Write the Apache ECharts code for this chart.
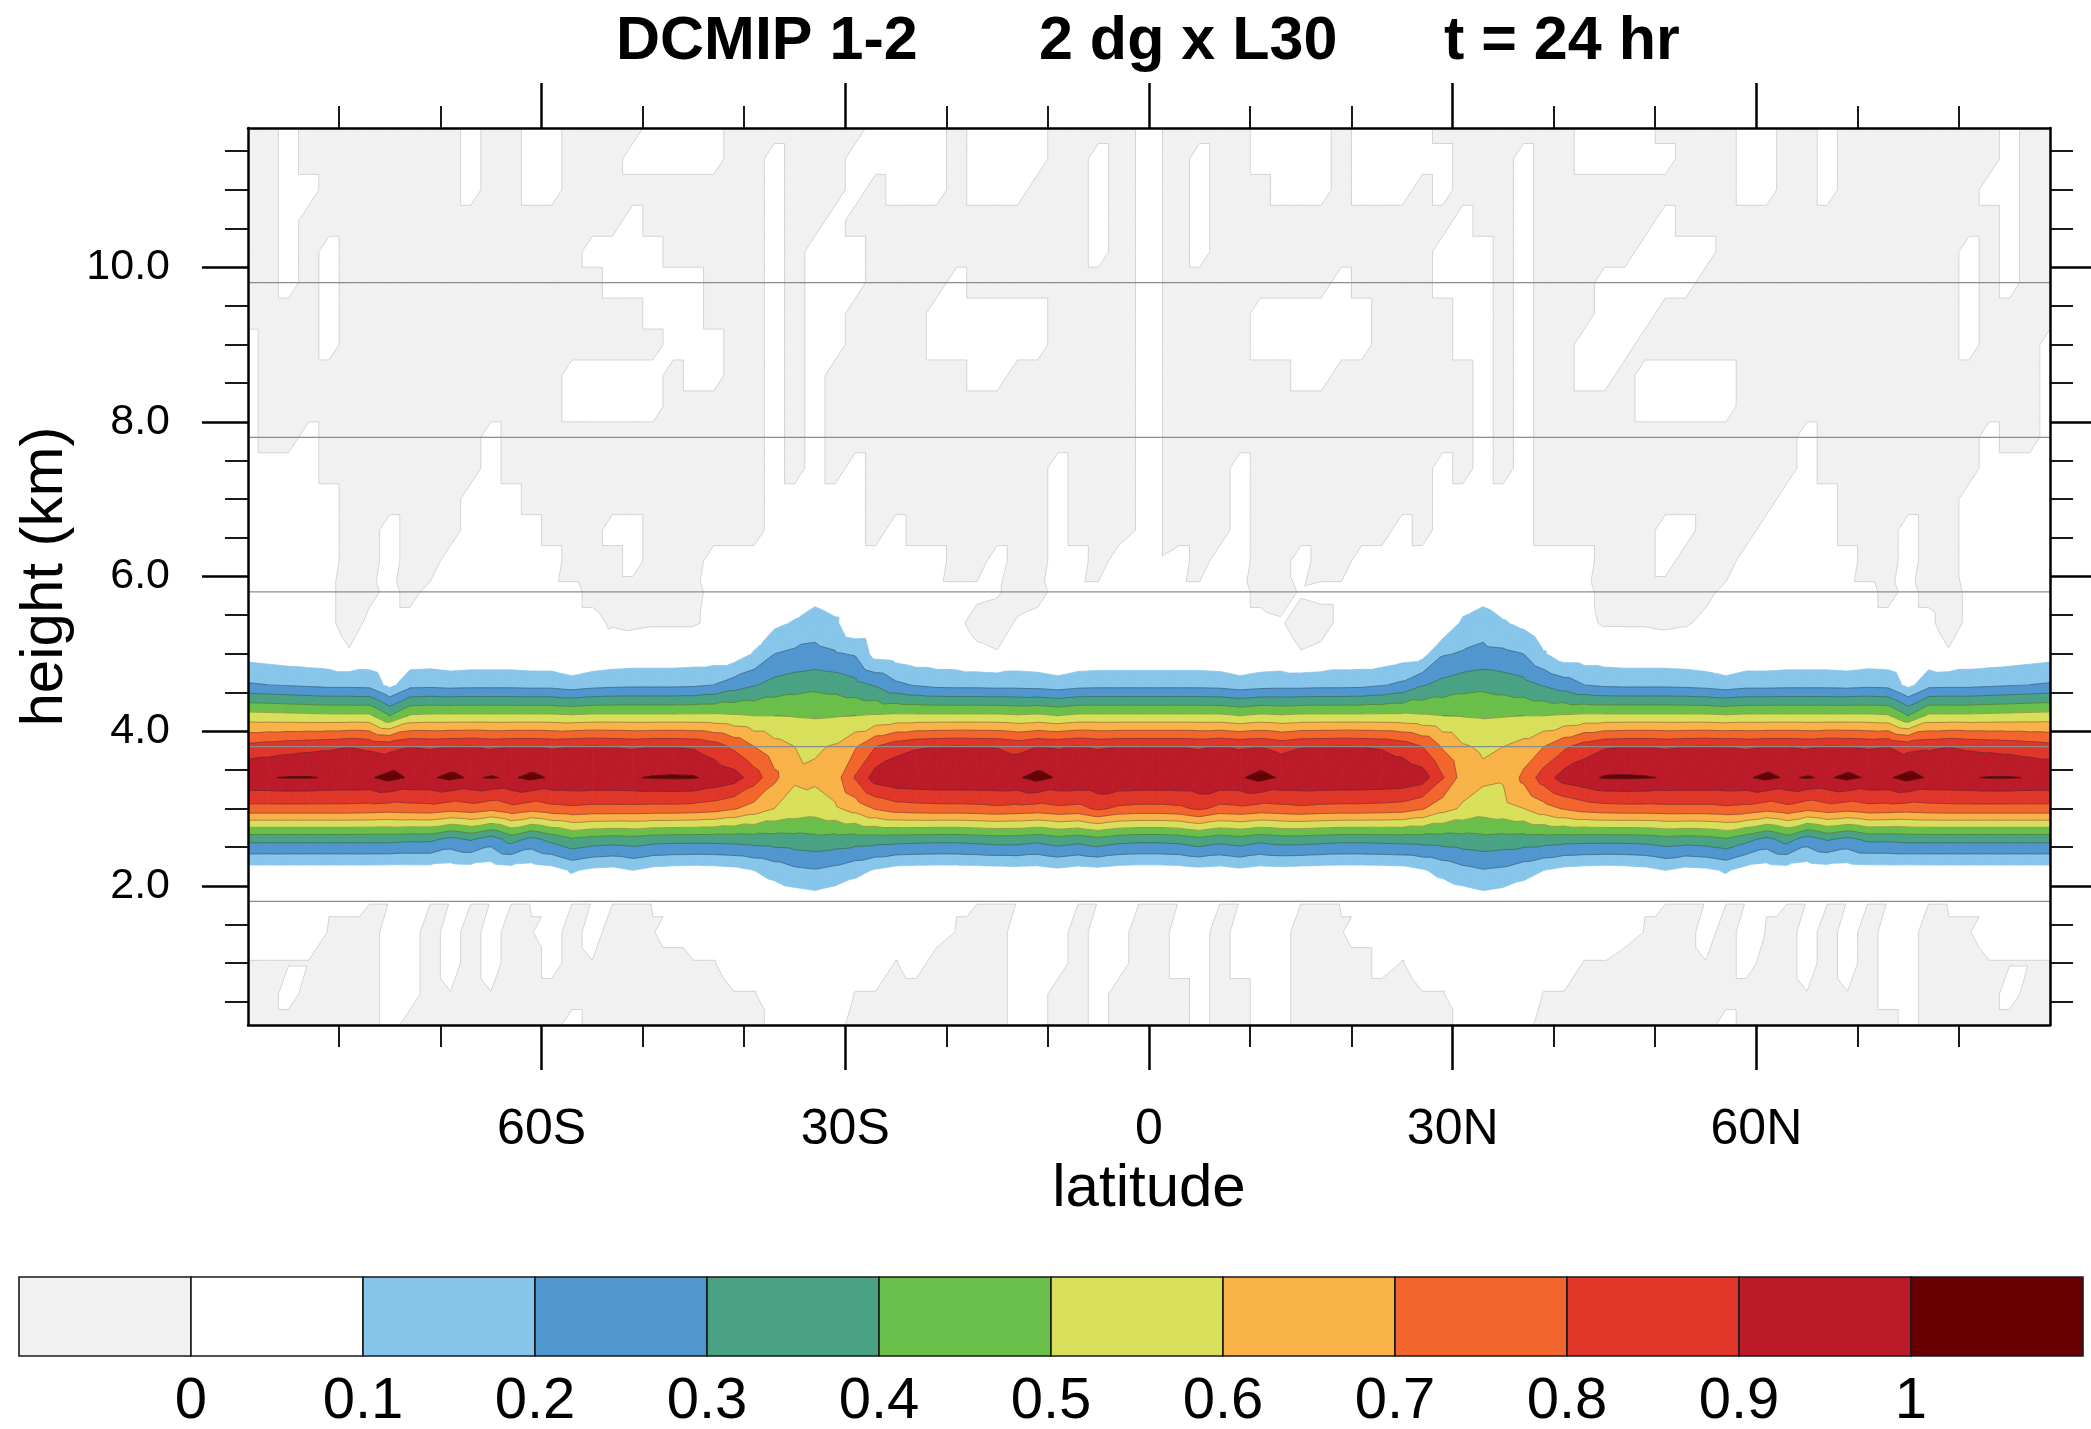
<!DOCTYPE html>
<html>
<head>
<meta charset="utf-8">
<title>DCMIP 1-2</title>
<script src="https://cdn.jsdelivr.net/npm/echarts/dist/echarts.min.js"></script>
<style>
html,body{margin:0;padding:0;background:#fff;}
#chart{width:2091px;height:1429px;}
</style>
</head>
<body>
<div id="chart"></div>
<script>
// ---------------- data ----------------
const LATITUDES = [-89,-87,-85,-83,-81,-79,-77,-75,-73,-71,-69,-67,-65,-63,-61,-59,-57,-55,-53,-51,-49,-47,-45,-43,-41,-39,-37,-35,-33,-31,-29,-27,-25,-23,-21,-19,-17,-15,-13,-11,-9,-7,-5,-3,-1,1,3,5,7,9,11,13,15,17,19,21,23,25,27,29,31,33,35,37,39,41,43,45,47,49,51,53,55,57,59,61,63,65,67,69,71,73,75,77,79,81,83,85,87,89];
const HEIGHTS = [0.2,0.6,1.0,1.4,1.8,2.2,2.6,3.0,3.4,3.8,4.2,4.6,5.0,5.4,5.8,6.2,6.6,7.0,7.4,7.8,8.2,8.6,9.0,9.4,9.8,10.2,10.6,11.0,11.4,11.8];

const LEVELS = [0,0.1,0.2,0.3,0.4,0.5,0.6,0.7,0.8,0.9,1.0];
const BAND_COLORS = ['#f1f1f1','#ffffff','#87c5ea','#5096cf','#48a283','#6abe4a','#d8df5a','#f8b247','#f2652c','#e0362a','#bb1b28','#680003'];
const COLORBAR_BOUNDS = [-0.1,0,0.1,0.2,0.3,0.4,0.5,0.6,0.7,0.8,0.9,1.0,1.1];
const COLORBAR_LABEL_VALUES = [0,0.1,0.2,0.3,0.4,0.5,0.6,0.7,0.8,0.9,1];
const COLORBAR_LABELS = ['0','0.1','0.2','0.3','0.4','0.5','0.6','0.7','0.8','0.9','1'];

const X_MAJOR = [-60,-30,0,30,60];
const X_LABELS = ['60S','30S','0','30N','60N'];
const X_MINOR = [-80,-70,-50,-40,-20,-10,10,20,40,50,70,80];
const Y_MAJOR = [2,4,6,8,10];
const Y_LABELS = ['2.0','4.0','6.0','8.0','10.0'];
const Y_MINOR = [0.5,1,1.5,2.5,3,3.5,4.5,5,5.5,6.5,7,7.5,8.5,9,9.5,10.5,11,11.5];
const GRID_LINE_HEIGHTS = [1.8,3.8,5.8,7.8,9.8];

const TITLE_PARTS = ['DCMIP 1-2','2 dg x L30','t = 24 hr'];

// sign rows: '#' = below 0 (grey), '-' = just below 0, '.' = between 0 and 0.1 (white), ',' = just above 0
const S_0_2  = "##### ##.## ##### #.### ##### #.... ##### ###.. ##.## ##.## ..### ##### ....# ##### ###.# ##### ##.## #####";
const S_0_6  = "##.## ##..# -#-## ##### ####- -.... --### ###.. ##.## ##.## ..### ###-- ....- -#### ##### ##-#- #..## ##.##";
const S_1_0  = "----# ##..# .#.## .#-## ##--. ..... ..-.# ###.. .#..# #..#. ..### #.-.. ..... .--## ##-#. ##.#. #..## #----";
const S_1_4  = "....- -#..# .#.#- .#.## -.... ..... ..... -##.. .#..# #..#. ..##- ..... ..... ....- ##.#. -#.#. #..#- -....";

// numeric rows through the tracer band
const Q_1_8 = [.002,.002,.002,.002,.002,.002,.002,.002,.002,.002, .002,.002,.002,.002,.002,.002,.002,.002,.002,.002, .002,.002,.002,.002,.002,.002,.02,.035,.05,.03, .015,.002,.002,.002,.002,.002,.002,.002,.002,.002, .002,.002,.002,.002,.002,
  .002,.002,.002,.002,.002, .002,.002,.002,.002,.002,.002,.002,.002,.002,.015, .03,.05,.035,.02,.002,.002,.002,.002,.002,.002, .002,.002,.002,.002,.002,.002,.002,.002,.002,.002, .002,.002,.002,.002,.002,.002,.002,.002,.002,.002];
const Q_2_2 = [.052,.052,.052,.052,.052,.052,.052,.05,.052,.052, .045,.05,.04,.055,.045,.06,.11,.08,.07,.1, .07,.06,.055,.06,.07,.1,.14,.18,.193,.17, .13,.09,.06,.055,.052,.052,.055,.06,.065,.06, .08,.06,.07,.055,.05,
  .05,.055,.07,.06,.08, .06,.065,.06,.055,.052,.052,.055,.06,.09,.13, .17,.193,.18,.14,.1,.07,.06,.055,.06,.07, .1,.07,.08,.11,.06,.045,.055,.04,.05,.045, .052,.052,.05,.052,.052,.052,.052,.052,.052,.052];
const Q_2_6 = [.33,.33,.33,.33,.33,.33,.33,.33,.32,.32, .27,.31,.25,.34,.27,.33,.385,.36,.35,.36, .34,.335,.335,.335,.34,.35,.355,.36,.37,.36, .35,.345,.34,.335,.33,.33,.34,.35,.35,.33, .36,.34,.37,.34,.33,
  .33,.34,.37,.34,.36, .33,.35,.35,.34,.33,.33,.335,.34,.345,.35, .36,.37,.36,.355,.35,.34,.335,.335,.335,.34, .36,.35,.36,.385,.33,.27,.34,.25,.31,.27, .32,.32,.33,.33,.33,.33,.33,.33,.33,.33];
const Q_3_0 = [.765,.765,.765,.765,.765,.765,.76,.75,.76,.765, .74,.76,.73,.77,.74,.77,.78,.77,.77,.77, .765,.765,.76,.745,.71,.66,.60,.57,.55,.585, .64,.71,.75,.76,.765,.765,.77,.78,.77,.76, .78,.77,.82,.78,.77,
  .77,.78,.82,.77,.78, .76,.77,.78,.77,.765,.765,.76,.75,.71,.64, .585,.55,.57,.60,.66,.71,.745,.76,.765,.765, .77,.77,.77,.78,.77,.74,.77,.73,.76,.74, .765,.76,.75,.76,.765,.765,.765,.765,.765,.765];
const Q_3_4 = [.995,.997,1.004,1.004,.995,.99,.99,1.03,.99,.99, 1.02,.99,1.006,.99,1.02,.99,.99,.99,.99,.995, 1.006,1.01,1.008,.975,.945,.85,.725,.61,.62,.655, .81,.95,.98,.985,.99,.99,.99,.99,.99,1.03, .99,.99,.99,.99,.99,
  .99,.99,.99,.99,.99, 1.03,.99,.99,.99,.99,.99,.985,.98,.95,.81, .655,.62,.61,.725,.85,.945,.975,1.008,1.01,1.006, .995,.99,.99,.99,.99,1.02,.99,1.006,.99,1.02, .99,.99,1.03,.99,.99,.995,1.004,1.004,.997,.995];
const Q_3_8 = [.834,.85,.865,.875,.885,.9,.885,.87,.9,.89, .9,.905,.89,.9,.9,.89,.9,.905,.9,.89, .9,.9,.89,.85,.78,.70,.635,.60,.587,.61, .69,.80,.86,.89,.90,.905,.90,.895,.87,.9, .89,.905,.89,.9,.9,
  .9,.9,.89,.905,.89, .9,.87,.895,.90,.905,.90,.89,.86,.80,.69, .61,.587,.60,.635,.70,.78,.85,.89,.9,.9, .89,.9,.905,.9,.89,.9,.9,.89,.905,.9, .89,.9,.87,.885,.9,.885,.875,.865,.85,.834];
const Q_4_2 = [.54,.535,.53,.525,.52,.52,.52,.40,.51,.52, .52,.52,.52,.52,.52,.52,.51,.52,.52,.52, .52,.52,.52,.52,.51,.50,.50,.495,.49,.495, .50,.51,.52,.52,.52,.52,.52,.52,.51,.52, .50,.52,.52,.52,.52,
  .52,.52,.52,.52,.50, .52,.51,.52,.52,.52,.52,.52,.52,.51,.50, .495,.49,.495,.50,.50,.51,.52,.52,.52,.52, .52,.52,.52,.51,.52,.52,.52,.52,.52,.52, .52,.51,.40,.52,.52,.52,.525,.53,.535,.54];
const Q_4_6 = [.21,.20,.19,.18,.17,.17,.165,.07,.165,.17, .16,.165,.165,.165,.16,.16,.14,.16,.17,.175, .175,.175,.18,.20,.25,.29,.333,.355,.373,.36, .33,.29,.22,.19,.17,.165,.165,.16,.16,.155, .14,.16,.165,.165,.165,
  .165,.165,.165,.16,.14, .155,.16,.16,.165,.165,.17,.19,.22,.29,.33, .36,.373,.355,.333,.29,.25,.20,.18,.175,.175, .175,.17,.16,.14,.16,.16,.165,.165,.165,.16, .17,.165,.07,.165,.17,.17,.18,.19,.20,.21];
const Q_5_0 = [.06,.05,.04,.035,.03,.005,.03,.003,.03,.035, .025,.03,.03,.03,.025,.025,.003,.02,.03,.035, .035,.035,.04,.04,.04,.11,.20,.22,.227,.21, .19,.06,.05,.03,.03,.03,.01,.003,.025,.02, .003,.02,.025,.025,.025,
  .025,.025,.025,.02,.003, .02,.025,.003,.01,.03,.03,.03,.05,.06,.19, .21,.227,.22,.20,.11,.04,.04,.04,.035,.035, .035,.03,.02,.003,.025,.025,.03,.03,.03,.025, .035,.03,.003,.03,.005,.03,.035,.04,.05,.06];
const Q_5_4 = [.01,.01,.01,.01,.01,-.02,.01,.01,.01,.01, .01,.01,.01,.01,.01,.01,.01,.01,-.005,-.01, -.005,-.005,-.005,.01,.01,.02,.075,.11,.155,.12, .005,.01,.01,.01,.01,.01,-.015,-.02,.005,.01, .01,.01,.01,.01,.01,
  .01,.01,.01,.01,.01, .01,.005,-.02,-.015,.01,.01,.01,.01,.01,.005, .12,.155,.11,.075,.02,.01,.01,-.005,-.005,-.005, -.01,-.005,.01,.01,.01,.01,.01,.01,.01,.01, .01,.01,.01,.01,-.02,.01,.01,.01,.01,.01];
const Q_5_8 = [.01,.01,.01,.01,.01,-.02,-.01,.01,-.01,.01, .01,.01,.01,.01,.01,.01,.01,-.01,-.02,-.02, -.02,-.02,-.01,.01,.01,.01,.01,.02,.05,.02, .01,.01,.01,.01,.01,.01,.01,.005,-.02,-.01, .01,.01,.01,.01,.01,
  .01,.01,.01,.01,.01, -.01,-.02,.005,.01,.01,.01,.01,.01,.01,.01, .02,.05,.02,.01,.01,.01,.01,-.01,-.02,-.02, -.02,-.02,-.01,.01,.01,.01,.01,.01,.01,.01, .01,-.01,.01,-.01,-.02,.01,.01,.01,.01,.01];

const S_6_2  = "..... ##.## ..... .###. ###.. ..... ..... ##.## ..#., ,.#.. ##.## ..... ..... ..### .###. ..... ##.## .....";
const S_6_6  = "..... ##.## #.... ###.. ##### #.... .#.## ##### .###, ,###. ##### ##.#. ....# ##### ..### ....# ##.## .....";
const S_7_0  = "..... ##### #...# ##### ##### #.... .#### ##### .###, ,###. ##### ####. ....# ##### ##### #...# ##### .....";
const S_7_4  = "....# ##### ##.## ##### ##### #.#.# .#### ##### .###, ,###. ##### ####. #.#.# ##### ##### ##.## ##### #....";
const S_7_8  = ".##.# ##### ##.## ##### ##### #.#.# ##### ##### ####, ,#### ##### ##### #.#.# ##### ##### ##.## ##### #.##.";
const S_8_2  = ".#### ##### ##### #.... .#### #.#.# ##### ##### ####, ,#### ##### ##### #.#.# ####. ....# ##### ##### ####.";
const S_8_6  = ".#### ##### ##### #.... .#..# #.#.# ##### #..## ####, ,#### ##..# ##### #.#.# #..#. ....# ##### ##### ####.";
const S_9_0  = ".###. ##### ##### ##### #...# #.#.. ####. ..... ####, ,#### ..... .#### ..#.# #...# ##### ##### ##### .###.";
const S_9_4  = "####. ##### ##### ##### ...## #.#.. ####. ..... ####, ,#### ..... .#### ..#.# ##... ##### ##### ##### .####";
const S_9_8  = "##.#. ##### ##### ###.. ...## #.#.. .#### .#### ####, ,#### ####. ####. ..#.# ##... ..### ##### ##### .#.##";
const S_10_2 = "##.#. ##### ##### ##... .#### #.#.. .#### ##### ##.#, ,#.## ##### ####. ..#.# ####. ...## ##### ##### .#.##";
const S_10_6 = "##.## ##### ##### ####. ##### #.##. ##### ##### ##.#, ,#.## ##### ##### .##.# ##### .#### ##### ##### ##.##";
const S_11_0 = "##..# ##### #.##. .#### ##### #.### .#... #...# ##.#, ,#.## #...# ...#. ###.# ##### ####. .##.# ##### #..##";
const S_11_4 = "##.## ##### #.##. .###. ....# #.### ..... #.... ##.#, ,#.## ....# ..... ###.# #.... .###. .##.# ##### ##.##";
const S_11_8 = "##.## ##### #.##. .#### ....# ##### #.... #.... ####, ,#### ....# ....# ##### #.... ####. .##.# ##### ##.##";

const FIELD_ROWS = [S_0_2,S_0_6,S_1_0,S_1_4,Q_1_8,Q_2_2,Q_2_6,Q_3_0,Q_3_4,Q_3_8,Q_4_2,Q_4_6,Q_5_0,Q_5_4,Q_5_8,
  S_6_2,S_6_6,S_7_0,S_7_4,S_7_8,S_8_2,S_8_6,S_9_0,S_9_4,S_9_8,S_10_2,S_10_6,S_11_0,S_11_4,S_11_8];
const SIGN_VALUES = { '#': -0.02, '-': -0.002, '.': 0.02, ',': 0.004 };

// ---------------- build the grid table ----------------
const FONT = '"Liberation Sans", Arial, Helvetica, sans-serif';

const field = FIELD_ROWS.map(function (r, j) {
  let vals;
  if (typeof r === 'string') {
    vals = Array.from(r.replace(/\s/g, '')).map(function (ch) { return SIGN_VALUES[ch]; });
  } else {
    vals = r;
  }
  if (vals.length !== LATITUDES.length) {
    throw new Error('row ' + HEIGHTS[j] + ' has ' + vals.length + ' values');
  }
  return vals;
});

const cells = [];
for (let j = 0; j < HEIGHTS.length - 1; j++) {
  for (let i = 0; i < LATITUDES.length - 1; i++) {
    cells.push([LATITUDES[i], LATITUDES[i + 1], HEIGHTS[j], HEIGHTS[j + 1],
      field[j][i], field[j][i + 1], field[j + 1][i], field[j + 1][i + 1]]);
  }
}

function clipPoly(poly, level, keepAbove) {
  const out = [];
  const n = poly.length;
  for (let a = 0; a < n; a++) {
    const p = poly[a], q = poly[(a + 1) % n];
    const pIn = keepAbove ? p[2] >= level : p[2] <= level;
    const qIn = keepAbove ? q[2] >= level : q[2] <= level;
    if (pIn) out.push(p);
    if (pIn !== qIn) {
      const t = (level - p[2]) / (q[2] - p[2]);
      out.push([p[0] + t * (q[0] - p[0]), p[1] + t * (q[1] - p[1]), level]);
    }
  }
  return out;
}

function cellTriangles(api) {
  const x0 = api.value(0), x1 = api.value(1), y0 = api.value(2), y1 = api.value(3);
  const a = [x0, y0, api.value(4)], b = [x1, y0, api.value(5)];
  const c = [x0, y1, api.value(6)], d = [x1, y1, api.value(7)];
  return [[a, b, d], [a, d, c]];
}

function renderFill(params, api) {
  const children = [];
  cellTriangles(api).forEach(function (tri) {
    const vs = tri.map(function (p) { return p[2]; });
    const vmin = Math.min.apply(null, vs), vmax = Math.max.apply(null, vs);
    for (let k = 0; k < BAND_COLORS.length; k++) {
      const lo = k === 0 ? -Infinity : LEVELS[k - 1];
      const hi = k === BAND_COLORS.length - 1 ? Infinity : LEVELS[k];
      if (vmax < lo || vmin > hi) continue;
      let poly = tri;
      if (lo !== -Infinity) poly = clipPoly(poly, lo, true);
      if (poly.length >= 3 && hi !== Infinity) poly = clipPoly(poly, hi, false);
      if (poly.length < 3) continue;
      children.push({
        type: 'polygon', silent: true,
        shape: { points: poly.map(function (p) { return api.coord([p[0], p[1]]); }) },
        style: { fill: BAND_COLORS[k], stroke: BAND_COLORS[k], lineWidth: 0.8 }
      });
    }
  });
  return { type: 'group', children: children };
}

function renderLines(params, api) {
  const children = [];
  cellTriangles(api).forEach(function (tri) {
    LEVELS.forEach(function (L) {
      if (L === 0.1) return;
      const pts = [];
      for (let e = 0; e < 3; e++) {
        const p = tri[e], q = tri[(e + 1) % 3];
        if ((p[2] >= L) !== (q[2] >= L)) {
          const t = (L - p[2]) / (q[2] - p[2]);
          pts.push(api.coord([p[0] + t * (q[0] - p[0]), p[1] + t * (q[1] - p[1])]));
        }
      }
      if (pts.length === 2) {
        children.push({
          type: 'line', silent: true,
          shape: { x1: pts[0][0], y1: pts[0][1], x2: pts[1][0], y2: pts[1][1] },
          style: { stroke: L === 0 ? '#c8c8c8' : 'rgba(45,45,45,0.45)', lineWidth: 0.8 }
        });
      }
    });
  });
  return { type: 'group', children: children };
}

const colorbarItems = BAND_COLORS.map(function (c, k) { return [COLORBAR_BOUNDS[k], COLORBAR_BOUNDS[k + 1], k]; });
const gridLineItems = GRID_LINE_HEIGHTS.map(function (h) { return [LATITUDES[0], LATITUDES[LATITUDES.length - 1], h]; });

const axisBase = { type: 'value', splitLine: { show: false }, z: 6, silent: true };
const black = '#000';

function xAxisDef(pos, ticks, len, width, withLine, withLabel) {
  return Object.assign({}, axisBase, {
    gridIndex: 0, position: pos, min: -89, max: 89,
    axisLine: { show: withLine, onZero: false, lineStyle: { color: black, width: 2.5 } },
    axisTick: { show: true, inside: false, customValues: ticks, length: len, lineStyle: { color: black, width: width } },
    axisLabel: withLabel ? {
      show: true, customValues: X_MAJOR, margin: 80, fontSize: 50, fontFamily: FONT, color: black,
      formatter: function (v) { const i = X_MAJOR.indexOf(Math.round(v)); return i >= 0 ? X_LABELS[i] : ''; }
    } : { show: false }
  });
}
function yAxisDef(pos, ticks, len, width, withLine, withLabel) {
  return Object.assign({}, axisBase, {
    gridIndex: 0, position: pos, min: 0.2, max: 11.8,
    axisLine: { show: withLine, onZero: false, lineStyle: { color: black, width: 2.5 } },
    axisTick: { show: true, inside: false, customValues: ticks, length: len, lineStyle: { color: black, width: width } },
    axisLabel: withLabel ? {
      show: true, customValues: Y_MAJOR, margin: 78, fontSize: 43, fontFamily: FONT, color: black,
      formatter: function (v) { const i = Y_MAJOR.indexOf(Math.round(v)); return i >= 0 ? Y_LABELS[i] : ''; }
    } : { show: false }
  });
}

const xMainBottom = xAxisDef('bottom', X_MAJOR, 45, 2.5, true, true);
xMainBottom.name = 'latitude';
xMainBottom.nameLocation = 'middle';
xMainBottom.nameGap = 124;
xMainBottom.nameTextStyle = { fontSize: 60, fontFamily: FONT, color: black };

const yMainLeft = yAxisDef('left', Y_MAJOR, 46, 2.5, true, true);
yMainLeft.name = 'height (km)';
yMainLeft.nameLocation = 'middle';
yMainLeft.nameRotate = 90;
yMainLeft.nameGap = 160;
yMainLeft.nameTextStyle = { fontSize: 60, fontFamily: FONT, color: black };

function titleText(i, x) {
  return { type: 'text', x: x, y: 42, silent: true,
    style: { text: TITLE_PARTS[i], fill: black, fontSize: 61, fontWeight: 'bold', fontFamily: FONT,
      align: 'left', verticalAlign: 'middle', textAlign: 'left', textVerticalAlign: 'middle' } };
}

const option = {
  backgroundColor: '#ffffff',
  animation: false,
  grid: [
    { left: 248, top: 128, width: 1802, height: 897, containLabel: false, outerBoundsMode: 'none' },
    { left: 19, top: 1277, width: 2064, height: 79, containLabel: false, outerBoundsMode: 'none' }
  ],
  xAxis: [
    xMainBottom,
    xAxisDef('bottom', X_MINOR, 22, 1.8, false, false),
    xAxisDef('top', X_MAJOR, 45, 2.5, true, false),
    xAxisDef('top', X_MINOR, 22, 1.8, false, false),
    Object.assign({}, axisBase, {
      gridIndex: 1, position: 'bottom', min: -0.1, max: 1.1,
      axisLine: { show: false, onZero: false }, axisTick: { show: false },
      axisLabel: {
        show: true, customValues: COLORBAR_LABEL_VALUES, margin: 17, fontSize: 58, fontFamily: FONT, color: black,
        formatter: function (v) { const i = Math.round(v * 10); return COLORBAR_LABELS[i] || ''; }
      }
    })
  ],
  yAxis: [
    yMainLeft,
    yAxisDef('left', Y_MINOR, 23, 1.8, false, false),
    yAxisDef('right', Y_MAJOR, 46, 2.5, true, false),
    yAxisDef('right', Y_MINOR, 23, 1.8, false, false),
    Object.assign({}, axisBase, { gridIndex: 1, min: 0, max: 1, show: false })
  ],
  graphic: [ titleText(0, 616), titleText(1, 1039), titleText(2, 1444) ],
  series: [
    {
      type: 'custom', name: 'tracer', xAxisIndex: 0, yAxisIndex: 0, z: 1, clip: true, silent: true,
      progressive: 0, animation: false,
      encode: { x: [0, 1], y: [2, 3] },
      renderItem: renderFill, data: cells
    },
    {
      type: 'custom', name: 'contours', xAxisIndex: 0, yAxisIndex: 0, z: 2, clip: true, silent: true,
      progressive: 0, animation: false,
      encode: { x: [0, 1], y: [2, 3] },
      renderItem: renderLines, data: cells
    },
    {
      type: 'custom', name: 'gridlines', xAxisIndex: 0, yAxisIndex: 0, z: 3, clip: true, silent: true,
      animation: false,
      encode: { x: [0, 1], y: 2 },
      renderItem: function (params, api) {
        const p0 = api.coord([api.value(0), api.value(2)]);
        const p1 = api.coord([api.value(1), api.value(2)]);
        return { type: 'line', shape: { x1: p0[0], y1: p0[1], x2: p1[0], y2: p1[1] }, style: { stroke: '#8c8c8c', lineWidth: 1.3 } };
      },
      data: gridLineItems
    },
    {
      type: 'custom', name: 'colorbar', xAxisIndex: 4, yAxisIndex: 4, z: 2, silent: true,
      animation: false,
      encode: { x: [0, 1] },
      renderItem: function (params, api) {
        const p0 = api.coord([api.value(0), 1]);
        const p1 = api.coord([api.value(1), 0]);
        return {
          type: 'rect', shape: { x: p0[0], y: p0[1], width: p1[0] - p0[0], height: p1[1] - p0[1] },
          style: { fill: BAND_COLORS[api.value(2)], stroke: '#1a1a1a', lineWidth: 1.6 }
        };
      },
      data: colorbarItems
    }
  ]
};

const chart = echarts.init(document.getElementById('chart'), null, { renderer: 'canvas', width: 2091, height: 1429 });
chart.setOption(option);
</script>
</body>
</html>
